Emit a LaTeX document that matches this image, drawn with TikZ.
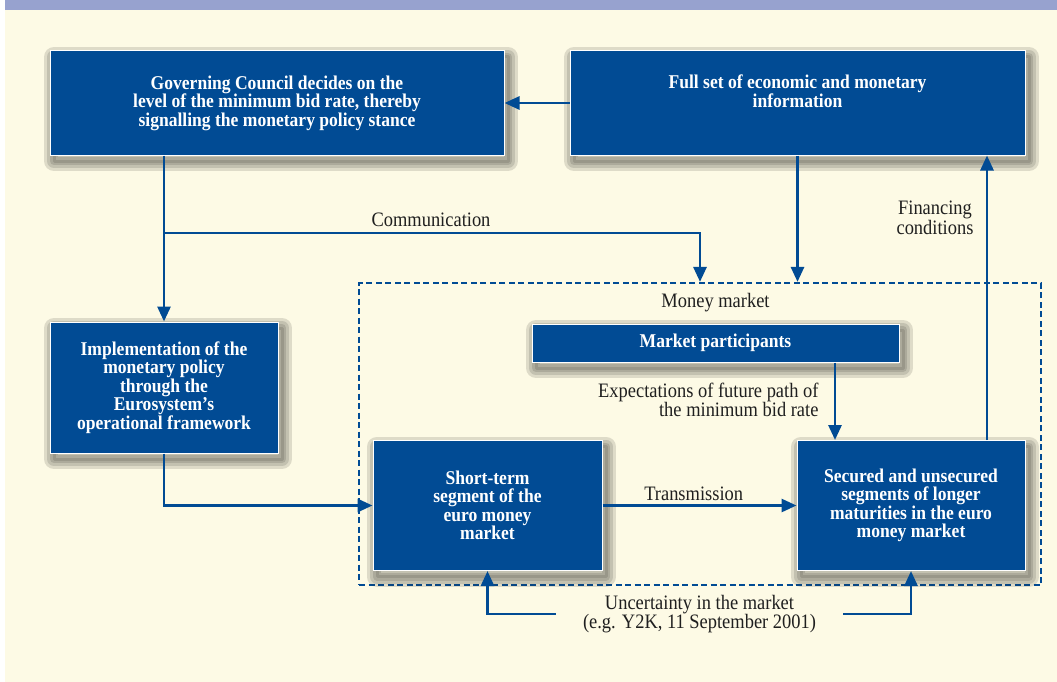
\documentclass[tikz,border=0pt]{standalone}
\usepackage{fontspec}
\setmainfont{Liberation Serif}[FakeStretch=0.9]
\usetikzlibrary{arrows.meta}
\definecolor{ecbblue}{RGB}{1,75,148}
\definecolor{cream}{RGB}{253,250,229}
\definecolor{lavender}{RGB}{151,162,207}
\definecolor{shadecol}{RGB}{45,45,40}
\tikzset{
  shadowring/.style={preaction={draw=shadecol, draw opacity=0.15, line width=#1, line join=round,
    fill=none, transform canvas={xshift=4pt, yshift=-6pt}}},
  box/.style={draw=white, line width=1pt, fill=ecbblue, text=white, align=center,
    font=\bfseries\fontsize{19.5}{18.4}\selectfont,
    shadowring=20pt, shadowring=14pt, shadowring=8pt, shadowring=3pt},
  lbl/.style={text=black!88, align=center, font=\fontsize{20.5}{19.5}\selectfont},
  arr/.style={->, draw=ecbblue, line width=2.8pt},
  mmframe/.style={draw=ecbblue, line width=2.2pt, dash pattern=on 6pt off 3.5pt}
}
\begin{document}
\begin{tikzpicture}[x=1pt, y=-1pt, >={Triangle[length=15pt,width=13pt]}, line join=miter]
	% background
	\useasboundingbox (0,0) rectangle (1057,682);
	\fill[cream] (5,10) rectangle (1057,682);
	\fill[lavender] (5,0) rectangle (1057,10);
	% money market frame
	\node[mmframe, minimum width=682pt, minimum height=302pt] (mm) at (700,434) {};
	\node[lbl] (mmlbl) at (715.5,303) {Money market};
	% boxes
	\node[box, minimum width=454pt, minimum height=104pt] (gov) at (277,103)
		{Governing Council decides on the\\level of the minimum bid rate, thereby\\signalling the monetary policy stance};
	\node[box, minimum width=455pt, minimum height=104pt] (info) at (797.5,103)
		{Full set of economic and monetary\\information\\\strut};
	\node[box, minimum width=228pt, minimum height=131pt] (impl) at (164,387.5)
		{Implementation of the\\monetary policy\\through the\\Eurosystem’s\\operational framework};
	\node[box, minimum width=229pt, minimum height=130pt] (short) at (487.5,505.5)
		{Short-term\\segment of the\\euro money\\market};
	\node[box, minimum width=228pt, minimum height=130pt] (long) at (911,505.5)
		{Secured and unsecured\\segments of longer\\maturities in the euro\\money market};
	\node[box, minimum width=367pt, minimum height=38pt] (part) at (715.5,343) {Market participants};
	% labels
	\node[lbl] (commlbl) at (431,220) {Communication};
	\node[lbl] (finlbl) at (935,218) {Financing\\conditions};
	\node[lbl, align=right, anchor=east] (explbl) at (822,400) {Expectations of future path of\\the minimum bid rate};
	\node[lbl, inner xsep=27pt] (unclbl) at (699.5,614) {Uncertainty in the market\\(e.g. Y2K, 11 September 2001)};
	% connectors
	\coordinate (commsplit) at (164,233);
	\coordinate (commend) at (700,0 |- mm.north);
	\draw[arr] (info.west) -- (gov.east);
	\draw[arr] (gov.south -| impl.north) -- (impl.north);
	\draw[arr] (commsplit) -| (commend);
	\draw[arr] (info.south) -- (info.south |- mm.north);
	\draw[arr] (long.north -| 987,0) -- (info.south -| 987,0);
	\draw[arr] (part.south -| 835,0) -- (long.north -| 835,0);
	\draw[arr] (impl.south) |- (short.west);
	\draw[arr] (short.east) -- node[lbl, above, pos=0.47] (translbl) {Transmission} (long.west);
	\draw[arr] (unclbl.west) -| (short.south);
	\draw[arr] (unclbl.east) -| (long.south);
\end{tikzpicture}
\end{document}
